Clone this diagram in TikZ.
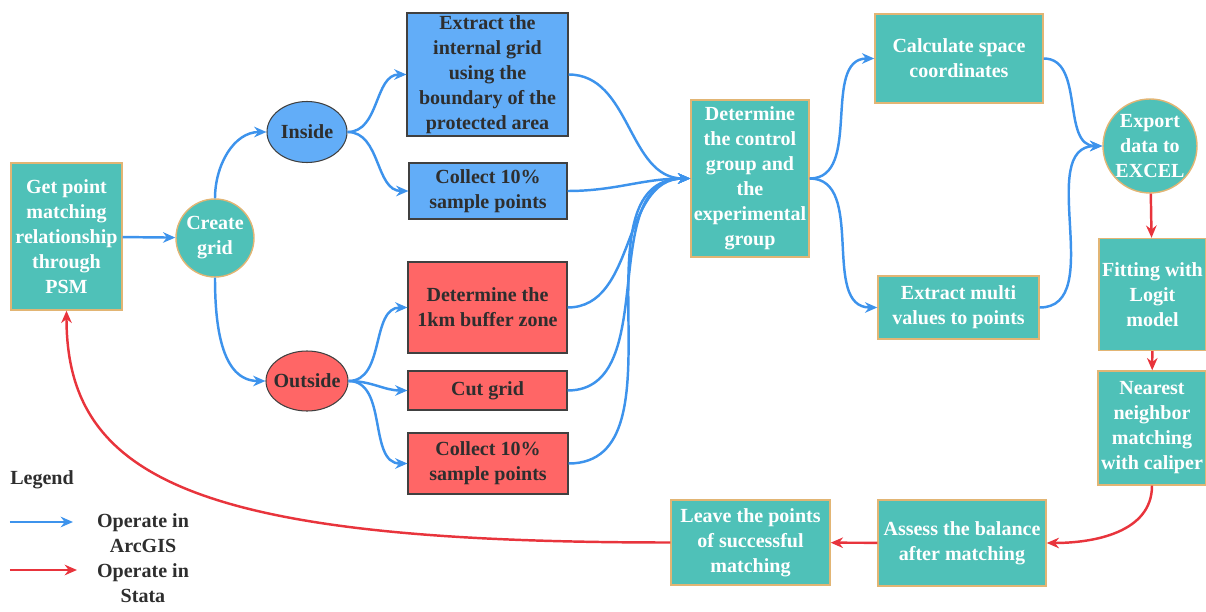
\documentclass[tikz,border=0pt]{standalone}
\usepackage{fontspec}
\setmainfont{Liberation Serif}[BoldFont={Liberation Serif Bold}]
\usetikzlibrary{arrows.meta,shapes.geometric}

\definecolor{tealfill}{HTML}{4FC1B8}
\definecolor{boxedge}{HTML}{E2B574}
\definecolor{bluefill}{HTML}{62ADF8}
\definecolor{redfill}{HTML}{FF6666}
\definecolor{flowblue}{HTML}{3D93EC}
\definecolor{flowred}{HTML}{E8343C}
\definecolor{darktext}{HTML}{2E2E2E}

\tikzset{
  every node/.style={font=\rmfamily\bfseries\fontsize{11.4}{14.2}\selectfont, align=center, inner sep=0pt},
  tealbox/.style={rectangle, draw=boxedge, fill=tealfill, text=white, line width=0.8pt},
  tealdisc/.style={circle, draw=boxedge, fill=tealfill, text=white, line width=0.8pt},
  bluebox/.style={rectangle, draw=black!75, fill=bluefill, text=darktext, line width=0.6pt},
  redbox/.style={rectangle, draw=black!75, fill=redfill, text=darktext, line width=0.6pt},
  oval/.style={ellipse, draw=black!75, text=darktext, line width=0.6pt, inner xsep=-2.5pt},
  blueflow/.style={draw=flowblue, line width=1.4pt, -{Stealth[length=7pt,width=6pt]}},
  redflow/.style={draw=flowred, line width=1.4pt, -{Stealth[length=7pt,width=6pt]}},
}

\begin{document}
\begin{tikzpicture}
  \useasboundingbox (0,0) rectangle (24.12,-12.24);

  % left part
  \node[tealbox, minimum width=2.22cm, minimum height=2.94cm] (psm) at (1.33,-4.73)
    {Get point\\matching\\relationship\\through\\PSM};
  \node[tealdisc, minimum size=1.56cm] (grid) at (4.30,-4.76) {Create\\grid};
  \node[oval, fill=bluefill, minimum width=1.6cm, minimum height=1.22cm] (inside) at (6.14,-2.64) {Inside};
  \node[oval, fill=redfill, minimum width=1.6cm, minimum height=1.2cm] (outside) at (6.14,-7.62) {Outside};

  % ArcGIS steps
  \node[bluebox, minimum width=3.22cm, minimum height=2.46cm] (extract) at (9.75,-1.49)
    {Extract the\\internal grid\\using the\\boundary of the\\protected area};
  \node[bluebox, minimum width=3.16cm, minimum height=1.12cm] (collectin) at (9.76,-3.82)
    {Collect 10\%\\sample points};
  \node[redbox, minimum width=3.18cm, minimum height=1.82cm] (buffer) at (9.75,-6.15)
    {Determine the\\1km buffer zone};
  \node[redbox, minimum width=3.18cm, minimum height=0.78cm] (cut) at (9.75,-7.81) {Cut grid};
  \node[redbox, minimum width=3.2cm, minimum height=1.22cm] (collectout) at (9.76,-9.27)
    {Collect 10\%\\sample points};

  \node[tealbox, minimum width=2.36cm, minimum height=3.14cm] (control) at (15.0,-3.57)
    {Determine\\the control\\group and\\the\\experimental\\group};
  \node[tealbox, minimum width=3.36cm, minimum height=1.78cm] (space) at (19.18,-1.17)
    {Calculate space\\coordinates};
  \node[tealbox, minimum width=3.22cm, minimum height=1.26cm] (multi) at (19.17,-6.15)
    {Extract multi\\values to points};
  \node[tealdisc, minimum size=1.88cm] (export) at (23.0,-2.92) {Export\\data to\\EXCEL};

  % Stata steps
  \node[tealbox, minimum width=2.14cm, minimum height=2.24cm] (logit) at (23.05,-5.89)
    {Fitting with\\Logit\\model};
  \node[tealbox, minimum width=2.16cm, minimum height=2.28cm] (nearest) at (23.04,-8.56)
    {Nearest\\neighbor\\matching\\with caliper};
  \node[tealbox, minimum width=3.36cm, minimum height=1.72cm] (assess) at (19.24,-10.86)
    {Assess the balance\\after matching};
  \node[tealbox, minimum width=3.18cm, minimum height=1.70cm] (leave) at (15.01,-10.85)
    {Leave the points\\of successful\\matching};

  % blue connectors
  \draw[blueflow] (psm) -- (grid);
  \draw[blueflow] (grid.north) to[out=90,in=180] (inside.west);
  \draw[blueflow] (grid.south) to[out=-90,in=180] (outside.west);
  \draw[blueflow] (inside.east) to[out=0,in=180] (extract.west);
  \draw[blueflow] (inside.east) to[out=0,in=180] (collectin.west);
  \draw[blueflow] (outside.east) to[out=0,in=180] (buffer.west);
  \draw[blueflow] (outside.east) to[out=0,in=180] (cut.west);
  \draw[blueflow] (outside.east) to[out=0,in=180] (collectout.west);
  \foreach \src in {extract,collectin,buffer,cut,collectout}
    \draw[blueflow] (\src.east) to[out=0,in=180] (control.west);
  \draw[blueflow] (control.east) to[out=0,in=180] (space.west);
  \draw[blueflow] (control.east) to[out=0,in=180] (multi.west);
  \draw[blueflow] (space.east) to[out=0,in=180] (export.west);
  \draw[blueflow] (multi.east) to[out=0,in=180] (export.west);

  % red connectors
  \draw[redflow] (export) -- (logit);
  \draw[redflow] (logit) -- (nearest);
  \draw[redflow] (nearest.south) to[out=-90,in=0] (assess.east);
  \draw[redflow] (assess) -- (leave);
  \draw[redflow] (leave.west) .. controls +(-9.4,0) and +(0,-3.4) .. (psm.south);

  % legend
  \node[text=darktext] (legend) at (0.84,-9.6) {Legend};
  \coordinate (ba) at (0.2,-10.44);
  \coordinate (bb) at (1.46,-10.44);
  \coordinate (ra) at (0.2,-11.4);
  \coordinate (rb) at (1.54,-11.4);
  \draw[blueflow] (ba) -- (bb);
  \draw[redflow] (ra) -- (rb);
  \node[text=darktext] (arcgis) at (2.86,-10.66) {Operate in\\ArcGIS};
  \node[text=darktext] (stata) at (2.86,-11.66) {Operate in\\Stata};
\end{tikzpicture}
\end{document}
